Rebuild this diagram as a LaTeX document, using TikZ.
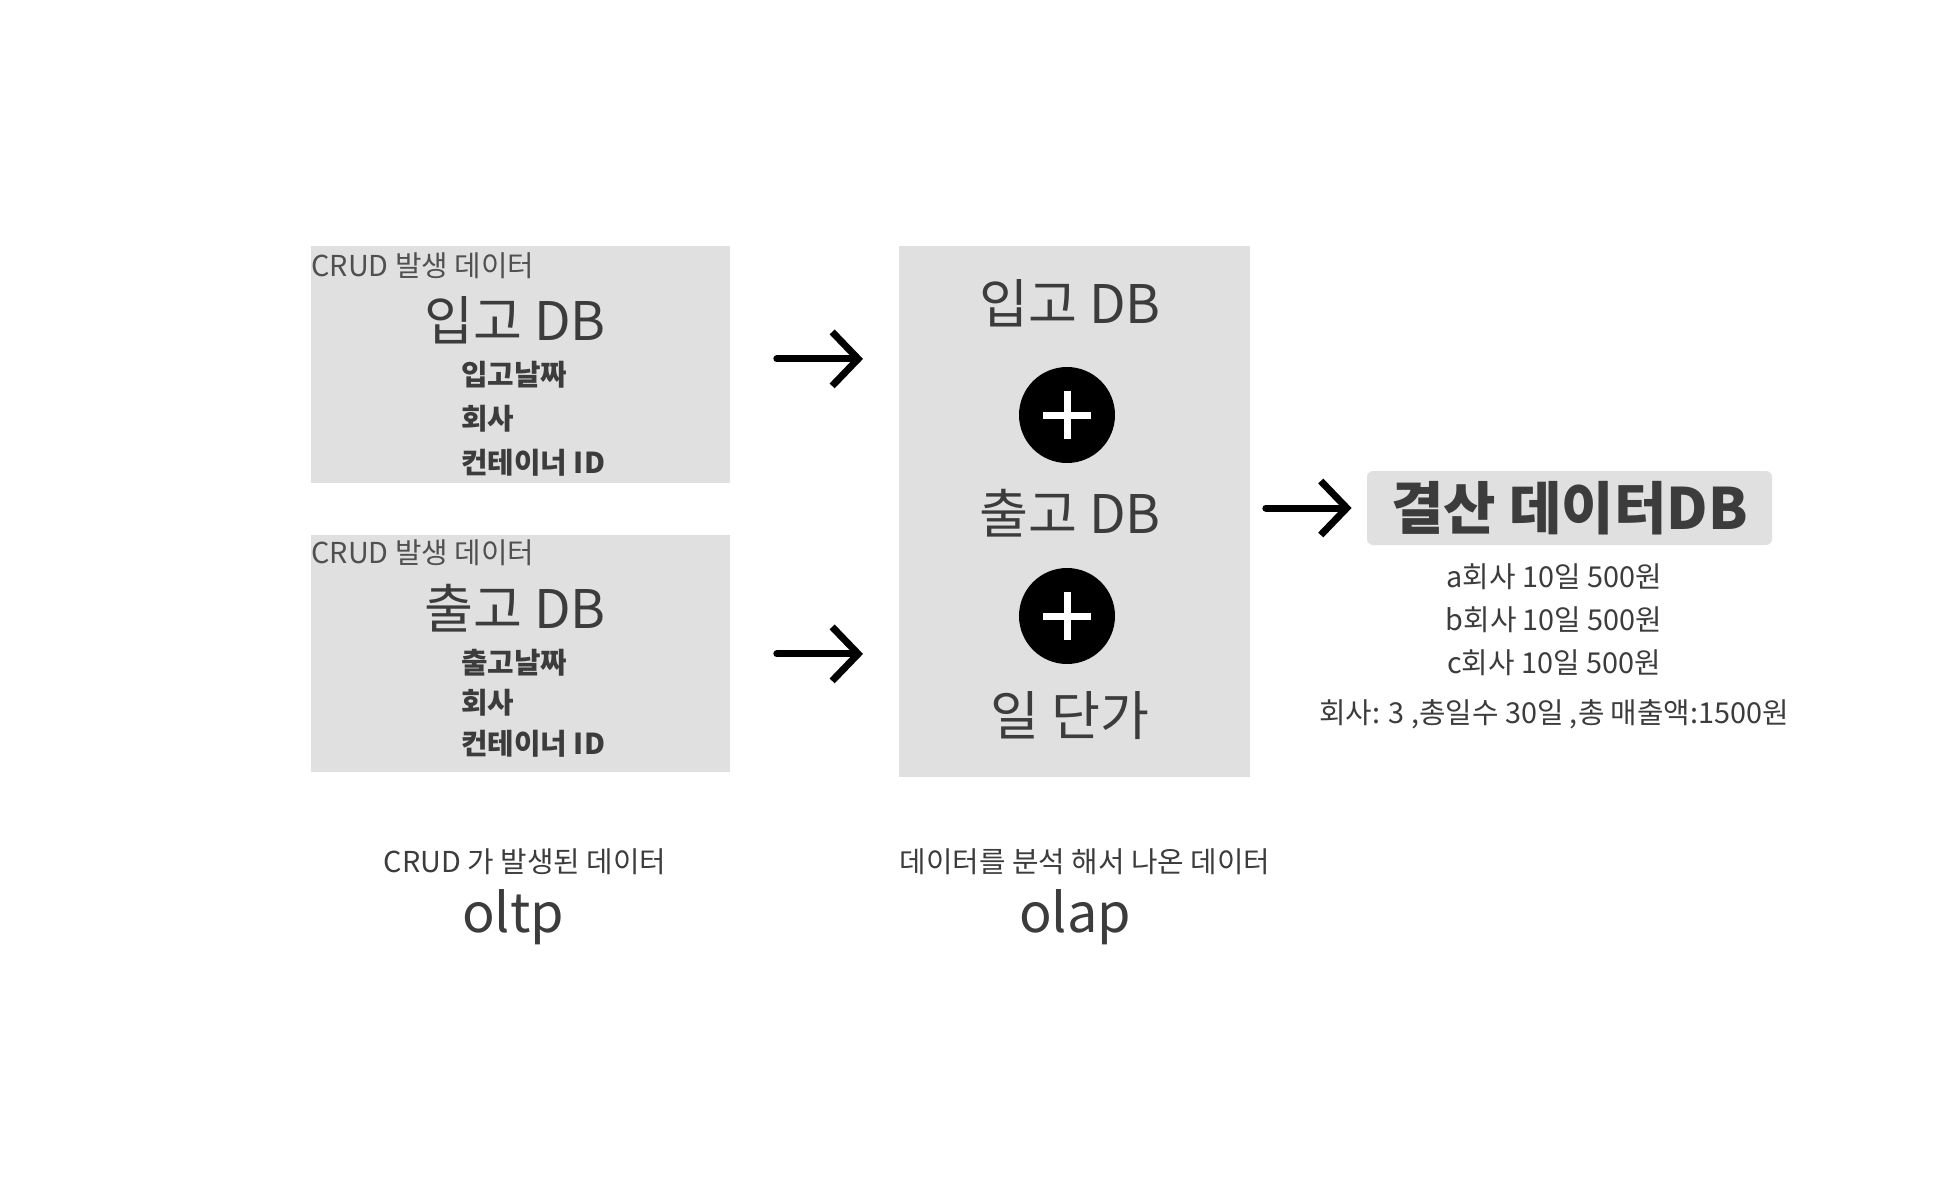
\documentclass[tikz,border=0pt]{standalone}
\usepackage{fontspec}
\setmainfont{Noto Sans CJK KR}
\usetikzlibrary{arrows.meta}
\definecolor{boxgray}{HTML}{E0E0E0}
\definecolor{txtgray}{HTML}{3C3C3C}
\definecolor{lblgray}{HTML}{505050}
\newcommand{\fs}[1]{\fontsize{#1}{#1}\selectfont}
\begin{document}
\begin{tikzpicture}[x=0.5pt,y=-0.5pt]
     \tikzstyle{db box}=[fill=boxgray, inner sep=0pt, anchor=north west]
     \tikzstyle{small label}=[anchor=west, inner sep=0pt, text=lblgray, font=\fs{14.4}]
     \tikzstyle{big name}=[inner sep=0pt, text=txtgray, font=\fs{26.6}]
     \tikzstyle{field}=[anchor=west, inner sep=0pt, text=txtgray, font=\fs{14.4}\bfseries]
     \tikzstyle{plus}=[circle, fill=black, minimum size=48pt, inner sep=0pt]
     \tikzstyle{flow}=[-{Straight Barb[length=13pt, width=27pt]}, line width=3.5pt, line cap=round, line join=round]
     \tikzstyle{result line}=[inner sep=0pt, text=txtgray, font=\fs{14.4}]
     \tikzstyle{caption}=[inner sep=0pt, text=txtgray, font=\fs{14.4}]
     \tikzstyle{kind}=[inner sep=0pt, text=txtgray, font=\fs{27}]
     \useasboundingbox[fill=white] (0,0) rectangle (1956,1200);
     % oltp boxes
     \node[db box, minimum width=209.5pt, minimum height=118.5pt] (inbox) at (311,246) {};
     \node[db box, minimum width=209.5pt, minimum height=118.5pt] (outbox) at (311,535) {};
     \node[small label] (inlbl) at (311,266) {CRUD 발생 데이터};
     \node[big name] (inname) at (515,320) {입고 DB};
     \node[field] (inf1) at (461,375) {입고날짜};
     \node[field] (inf2) at (461,419) {회사};
     \node[field] (inf3) at (461,463) {컨테이너 ID};
     \node[small label] (outlbl) at (311,553) {CRUD 발생 데이터};
     \node[big name] (outname) at (515,608) {출고 DB};
     \node[field] (outf1) at (461,663) {출고날짜};
     \node[field] (outf2) at (461,703) {회사};
     \node[field] (outf3) at (461,744) {컨테이너 ID};
     % olap box
     \node[db box, minimum width=175.5pt, minimum height=265.5pt] (midbox) at (899,246) {};
     \node[big name] (midin) at (1070,303) {입고 DB};
     \node[plus] (plus1) at (1067,415) {};
     \node[big name] (midout) at (1070,513) {출고 DB};
     \node[plus] (plus2) at (1067,616) {};
     \node[big name] (midprice) at (1070,716) {일 단가};
     \foreach \p in {plus1,plus2}{
       \draw[white, line width=3.5pt] (\p.center) ++(-12pt,0) -- ++(24pt,0);
       \draw[white, line width=3.5pt] (\p.center) ++(0,-12pt) -- ++(0,24pt);
     }
     % result
     \node[fill=boxgray, rounded corners=3pt, minimum width=202.5pt, minimum height=37pt, inner sep=0pt,
       text=txtgray, font=\fs{28.5}\bfseries] (result) at (1569.5,508) {결산 데이터DB};
     \node[result line] (ra) at (1554,577) {a회사 10일 500원};
     \node[result line] (rb) at (1554,620) {b회사 10일 500원};
     \node[result line] (rc) at (1554,663) {c회사 10일 500원};
     \node[result line] (rsum) at (1554,714) {회사: 3 ,총일수 30일 ,총 매출액:1500원};
     % arrows
     \draw[flow, shorten <=23pt, shorten >=18pt] ([yshift=3pt]inbox.east) -- ([yshift=3pt]midbox.west |- inbox.east);
     \draw[flow, shorten <=23pt, shorten >=18pt] (outbox.east) -- (midbox.west |- outbox.east);
     \draw[flow, shorten <=7.5pt, shorten >=7.5pt] (midbox.east |- result.west) -- (result.west);
     % captions
     \node[caption] (oltpcap) at (525,862) {CRUD 가 발생된 데이터};
     \node[kind] (oltp) at (513,917) {oltp};
     \node[caption] (olapcap) at (1085,862) {데이터를 분석 해서 나온 데이터};
     \node[kind] (olap) at (1075,917) {olap};
\end{tikzpicture}
\end{document}
